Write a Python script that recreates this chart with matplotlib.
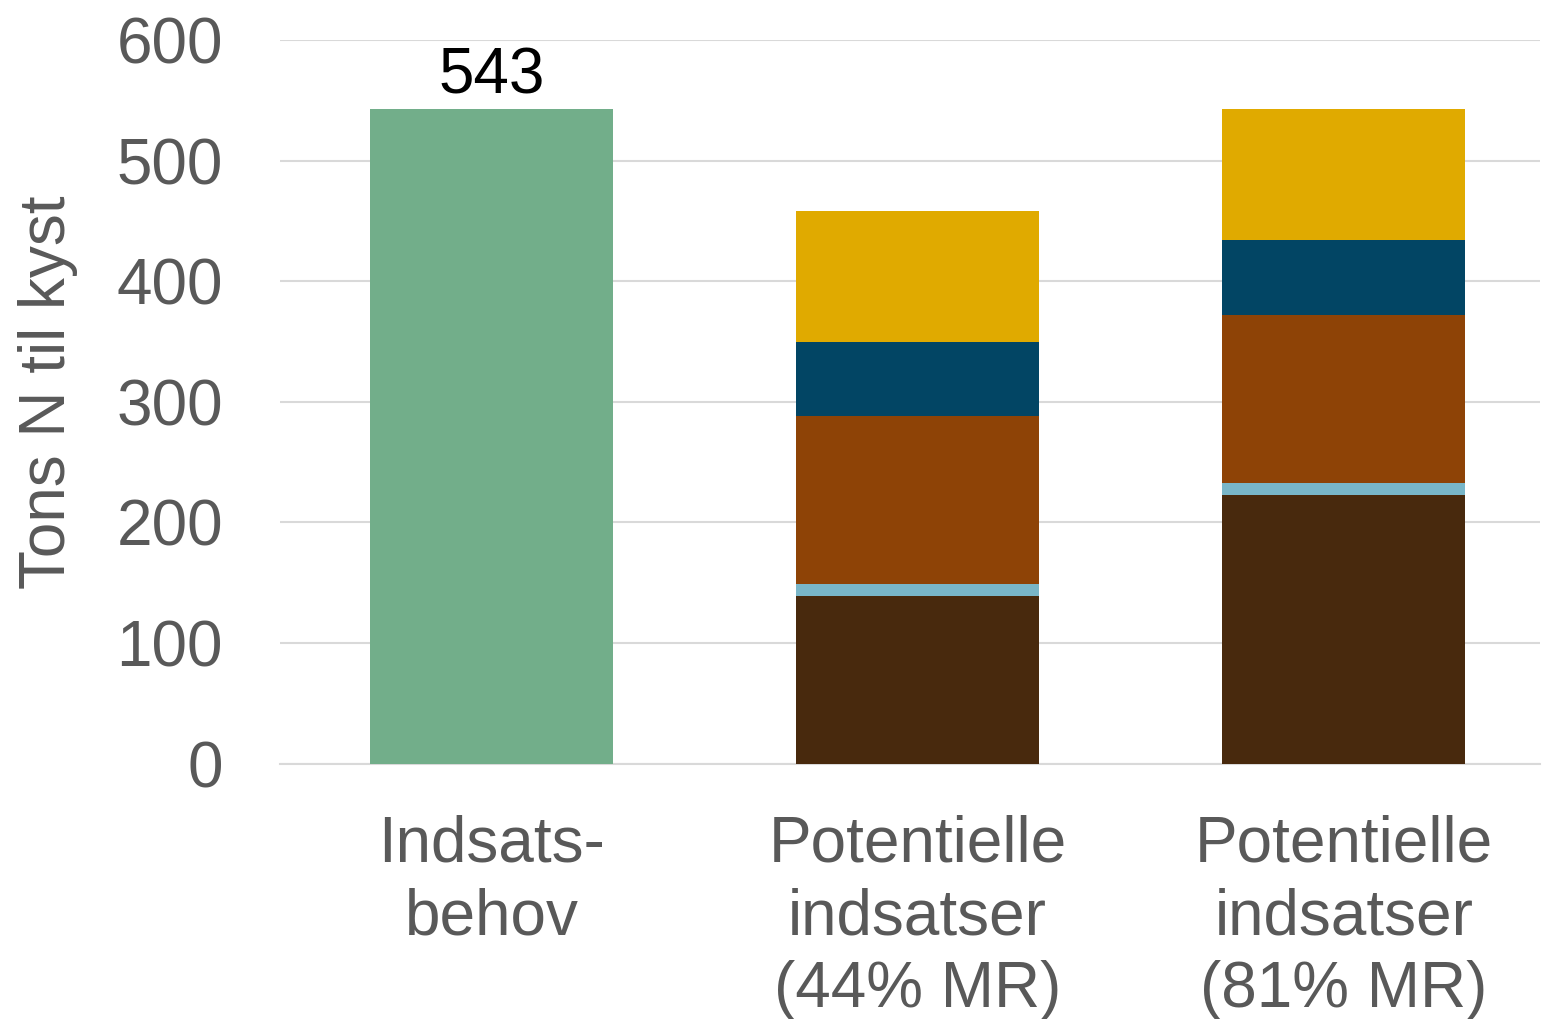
import matplotlib
matplotlib.use("Agg")
import matplotlib.pyplot as plt
import numpy as np

# data ---------------------------------------------------------
kategorier = ["Indsats-\nbehov", "Potentielle\nindsatser\n(44% MR)", "Potentielle\nindsatser\n(81% MR)"]
behov = [543, 0, 0]
seg_brun = [0, 139, 223]
seg_lysblaa = [0, 10, 10]
seg_orange = [0, 139, 139]
seg_moerkblaa = [0, 62, 62]
seg_gul = [0, 108, 109]
yticks = [0, 100, 200, 300, 400, 500, 600]

farver = {
    "gron": "#72AE8A",
    "brun": "#48290D",
    "lysblaa": "#79B6C8",
    "orange": "#8E4306",
    "moerkblaa": "#024564",
    "gul": "#E0AA00",
}
#---------------------------------------------------------------

plt.rcParams['font.family'] = ['Liberation Sans', 'DejaVu Sans']
grå = "#595959"
fs = 46

fig = plt.figure(figsize=(15.42, 10.19), dpi=100)
ax = fig.add_axes([0.1816, 0.2507, 0.8171, 0.7100])

x = np.arange(len(kategorier))
b = 0.57

ax.bar(x[:1], behov[:1], width=b, color=farver["gron"], zorder=3)

bund = np.zeros(len(x))
for vals, navn in [(seg_brun, "brun"), (seg_lysblaa, "lysblaa"), (seg_orange, "orange"),
                   (seg_moerkblaa, "moerkblaa"), (seg_gul, "gul")]:
    v = np.array(vals, dtype=float)
    ax.bar(x[1:], v[1:], bottom=bund[1:], width=b, color=farver[navn], zorder=3)
    bund += v

ax.text(x[0], behov[0] + 2, str(behov[0]), ha="center", va="bottom", fontsize=fs, color="black")

ax.set_xlim(-0.496, 2.46)
ax.set_ylim(0, 600)
ax.set_yticks(yticks)
ax.set_xticks(x)
ax.set_xticklabels(kategorier, fontsize=fs, color=grå, linespacing=1.27)
ax.tick_params(axis="y", labelsize=fs, colors=grå, length=0, pad=41)
ax.tick_params(axis="x", length=0, pad=37)
for t in ax.get_yticklabels():
    t.set_color(grå)

ax.grid(axis="y", color="#d9d9d9", linewidth=1.5, zorder=0)
for s in ["top", "right", "left"]:
    ax.spines[s].set_visible(False)
ax.spines["bottom"].set_color("#d9d9d9")
ax.spines["bottom"].set_linewidth(1.5)

ax.set_ylabel("Tons N til kyst", fontsize=fs, color=grå)
ax.yaxis.set_label_coords(-0.160, 0.513)

fig.savefig("out.png", dpi=100)
